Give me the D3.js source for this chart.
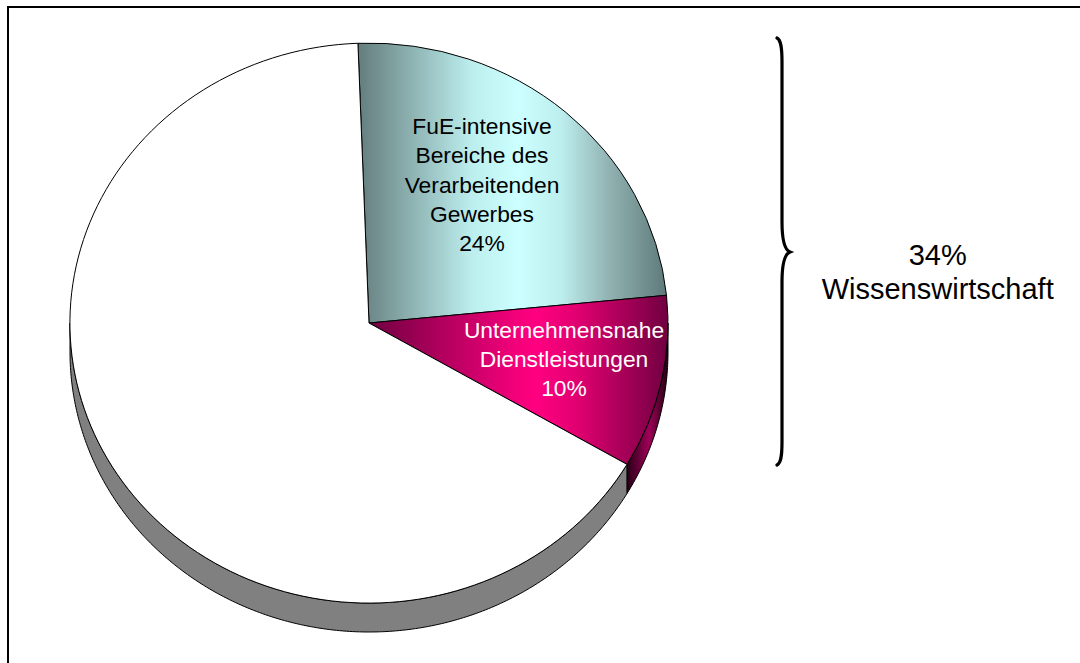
<!DOCTYPE html>
<html><head><meta charset="utf-8">
<script src="https://cdn.jsdelivr.net/npm/d3@7"></script>
<style>html,body{margin:0;padding:0;background:#fff}svg{display:block}text{font-family:"Liberation Sans",Arial,sans-serif}</style>
</head><body><svg id="c" width="1080" height="663"></svg>
<script>
const categories = ["FuE-intensive Bereiche des Verarbeitenden Gewerbes", "Unternehmensnahe Dienstleistungen", "Übrige"];
const values = [24, 10, 66];
const labelLines = [["FuE-intensive","Bereiche des","Verarbeitenden","Gewerbes","24%"],["Unternehmensnahe","Dienstleistungen","10%"],[]];
const labelColors = ["#000","#fff","#000"];
const bracketLines = ["34%","Wissenswirtschaft"];

const W=1080,H=663, cx=369, cy=323, rx=299, ry=280, depth=29;
const svg=d3.select("#c");
const defs=svg.append("defs");
function grad(id,x1,x2,stops){
  const g=defs.append("linearGradient").attr("id",id).attr("gradientUnits","userSpaceOnUse")
    .attr("x1",x1).attr("x2",x2).attr("y1",0).attr("y2",0);
  stops.forEach(s=>g.append("stop").attr("offset",s[0]).attr("stop-color",s[1]));
}
const px=d3.scaleLinear().domain([-1,1]).range([cx-rx,cx+rx]);
const py=d3.scaleLinear().domain([-1,1]).range([cy-ry,cy+ry]);
// face gradients live in the unit space of the scaled pie group
grad("g0",px.invert(358),px.invert(666),[[0,"#647d7d"],[.37,"#bdeeee"],[.52,"#ccffff"],[.66,"#bdeeee"],[.81,"#93b4b4"],[1,"#5f7a7a"]]);
grad("g1",px.invert(369),px.invert(668),[[0,"#700041"],[.5,"#f5007b"],[.56,"#ff0080"],[.7,"#e00070"],[1,"#700041"]]);
grad("g2",626,668,[[0,"#200012"],[.55,"#a00058"],[1,"#200012"]]);
const fills=["url(#g0)","url(#g1)","#fff"];

svg.append("rect").attr("x",8).attr("y",7).attr("width",W+10).attr("height",H+10)
  .attr("fill","#fff").attr("stroke","#000").attr("stroke-width",2);

const start=-2.1*Math.PI/180;
const arcs=d3.pie().sort(null).startAngle(start).endAngle(start+2*Math.PI)(values);
const pt=(a,d=0)=>[px(Math.sin(a)),py(-Math.cos(a))+d];

function side(a0,a1){
  const n=Math.max(2,Math.ceil(Math.abs(a1-a0)*90));
  const as=d3.range(n+1).map(i=>a0+(a1-a0)*i/n);
  return d3.line()(as.map(a=>pt(a)).concat(as.slice().reverse().map(a=>pt(a,depth))))+"Z";
}
const sideG=svg.append("g").attr("stroke","#000").attr("stroke-width",1).attr("stroke-linejoin","round");
sideG.append("path").attr("d",side(arcs[2].startAngle,1.5*Math.PI)).attr("fill","#808080");
sideG.append("path").attr("d",side(Math.PI/2,arcs[1].endAngle)).attr("fill","url(#g2)");

const arc=d3.arc().innerRadius(0).outerRadius(1);
svg.append("g").attr("transform",`translate(${cx},${cy}) scale(${rx},${ry})`)
  .selectAll("path").data(arcs).join("path")
  .attr("d",arc).attr("fill",(d,i)=>fills[i]).attr("stroke","#000")
  .attr("stroke-width",1).attr("vector-effect","non-scaling-stroke");

const labelPos=[[482,134],[564,338]];
const lh=[29.25,29];
labelLines.slice(0,2).forEach((ls,i)=>{
  const t=svg.append("text").attr("text-anchor","middle").attr("font-size",22.8).attr("fill",labelColors[i]);
  ls.forEach((s,j)=>t.append("tspan").attr("x",labelPos[i][0]).attr("y",labelPos[i][1]+j*lh[i]).text(s));
});
const bt=svg.append("text").attr("text-anchor","middle").attr("font-size",29).attr("fill","#000");
bracketLines.forEach((s,j)=>bt.append("tspan").attr("x",937.7).attr("y",[265,299][j]).text(s));

const b=d3.path();
b.moveTo(777,38);
b.bezierCurveTo(781,40,782,48,782,62);
b.lineTo(782,222);
b.bezierCurveTo(782,240,785,250,790,252);
b.bezierCurveTo(785,254,782,264,782,282);
b.lineTo(782,442);
b.bezierCurveTo(782,456,781,463,777,465);
svg.append("path").attr("d",b.toString()).attr("fill","none").attr("stroke","#000").attr("stroke-width",3.2).attr("stroke-linecap","round");
</script></body></html>
